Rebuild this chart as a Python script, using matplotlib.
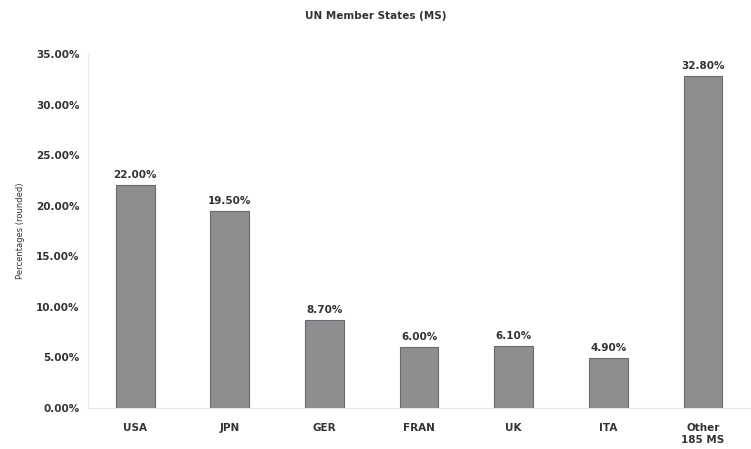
import matplotlib
matplotlib.use("Agg")
import matplotlib.pyplot as plt
from matplotlib.ticker import FuncFormatter

categories = ["USA", "JPN", "GER", "FRAN", "UK", "ITA", "Other\n185 MS"]
values = [22.0, 19.5, 8.7, 6.0, 6.1, 4.9, 32.8]
yticks = [0, 5, 10, 15, 20, 25, 30, 35]

fig = plt.figure(figsize=(7.51, 4.49), dpi=100)
ax = fig.add_axes([0.117, 0.0913, 0.882, 0.7884])
x = range(len(categories))
ax.bar(x, values, width=0.41, color="#8e8e91", edgecolor="#6a6a6e", linewidth=0.8)
for xi, v in zip(x, values):
    ax.text(xi, v + 0.5, f"{v:.2f}%", ha="center", va="bottom", fontsize=7.5,
            fontweight="bold", color="#333333")
ax.set_xlim(-0.5, 6.5)
ax.set_ylim(0, 35)
ax.set_yticks(yticks)
ax.yaxis.set_major_formatter(FuncFormatter(lambda v, p: f"{v:.2f}%"))
ax.set_xticks(list(x))
ax.set_xticklabels(categories)
for lbl in ax.get_xticklabels() + ax.get_yticklabels():
    lbl.set_fontsize(7.5)
    lbl.set_fontweight("bold")
    lbl.set_color("#333333")
ax.tick_params(axis="y", length=0, pad=6)
ax.tick_params(axis="x", length=0, pad=11)
ax.spines["top"].set_visible(False)
ax.spines["right"].set_visible(False)
ax.spines["left"].set_color("#e6e6e6")
ax.spines["bottom"].set_color("#e6e6e6")
ax.set_ylabel("Percentages (rounded)", fontsize=6, color="#333333", labelpad=8)
fig.suptitle("UN Member States (MS)", fontsize=7.5, fontweight="bold", color="#333333", y=0.975)
fig.savefig("out.png", dpi=100)
